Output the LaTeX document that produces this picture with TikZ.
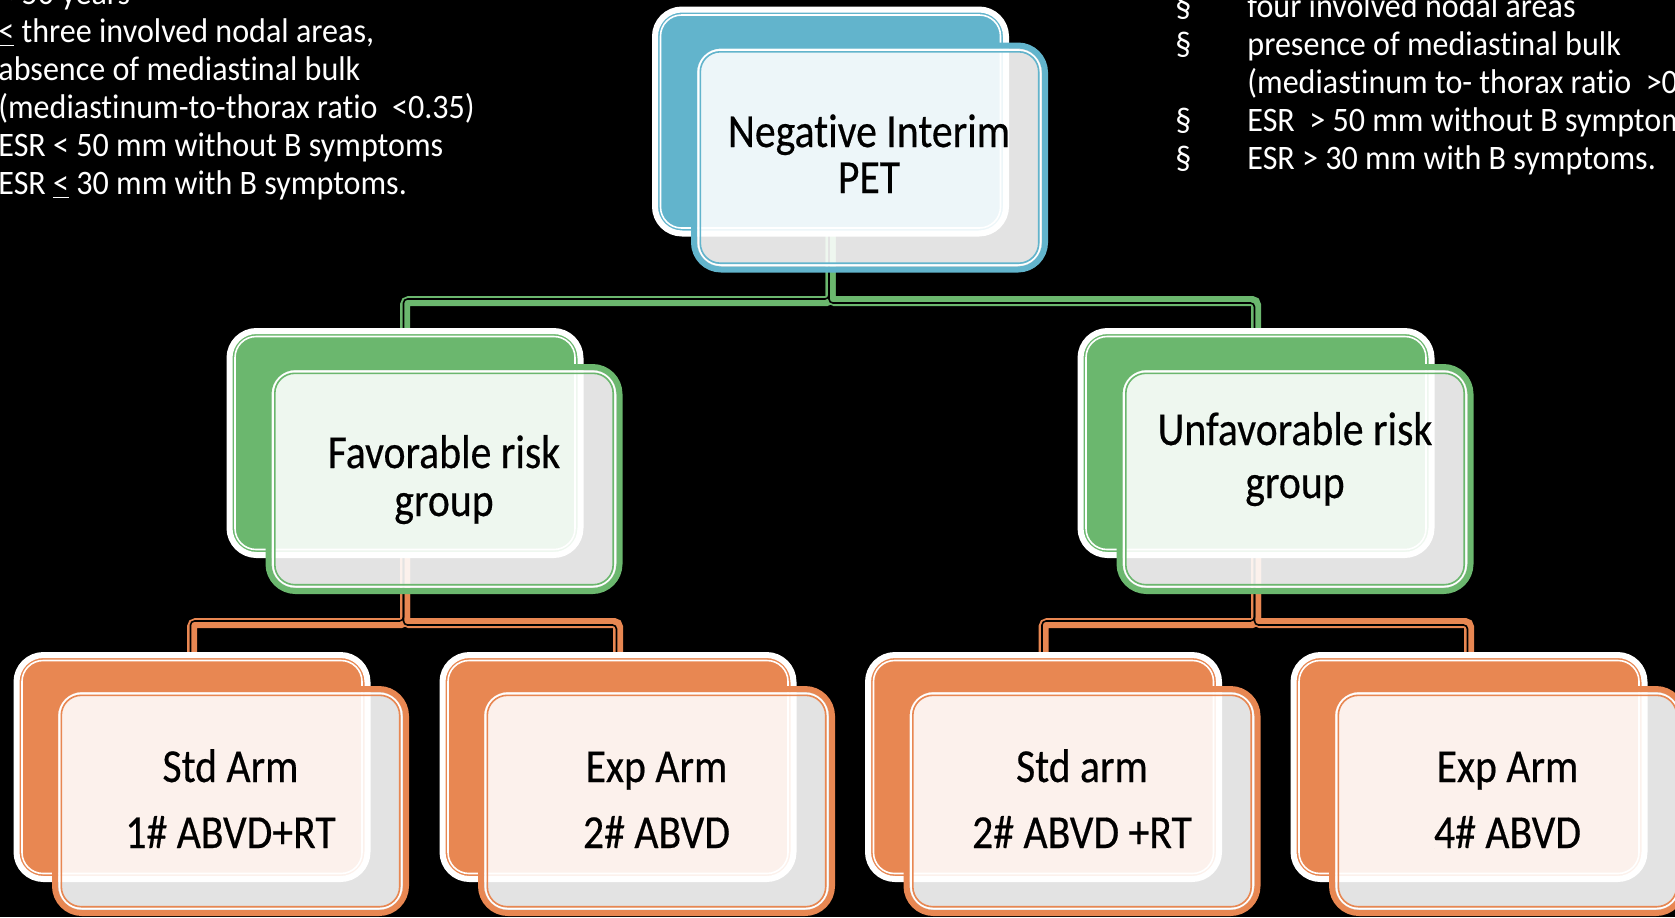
\documentclass[tikz,border=0pt]{standalone}
\usepackage{fontspec}
\setmainfont{Carlito}
\newfontfamily\boxfont[FakeStretch=0.88, FakeBold=0.4, Ligatures=NoCommon]{Carlito}
\newfontfamily\notefont[FakeStretch=0.935, Ligatures=NoCommon]{Carlito}
\usetikzlibrary{calc}

\definecolor{tealc}{HTML}{62B4CC}
\definecolor{greenc}{HTML}{6BB76E}
\definecolor{orangec}{HTML}{E88752}

\pgfdeclarelayer{bg}
\pgfsetlayers{bg,main}

\tikzset{
  % solid card behind, white rim and a thin white inner line
  backbox/.style={draw=white, line width=3pt, fill=#1, rounded corners=13.5pt,
    minimum width=175.5pt, minimum height=112pt, inner sep=0pt,
    path picture={\draw[white, line width=0.8pt, rounded corners=10.5pt]
      ([shift={(2.75pt,-2.75pt)}]path picture bounding box.north west) rectangle
      ([shift={(-2.75pt,2.75pt)}]path picture bounding box.south east);}},
  % translucent card in front, coloured rim with white and coloured inner lines
  frontbox/.style={draw=#1, line width=3pt, fill=white, fill opacity=0.89,
    rounded corners=13.5pt, minimum width=175.5pt, minimum height=112pt, inner sep=0pt,
    path picture={
      \draw[white, line width=0.8pt, rounded corners=11pt]
        ([shift={(2.25pt,-2.25pt)}]path picture bounding box.north west) rectangle
        ([shift={(-2.25pt,2.25pt)}]path picture bounding box.south east);
      \draw[#1, line width=0.8pt, rounded corners=10pt]
        ([shift={(3.15pt,-3.15pt)}]path picture bounding box.north west) rectangle
        ([shift={(-3.15pt,3.15pt)}]path picture bounding box.south east);}},
  boxtext/.style={font=\boxfont\fontsize{23.7pt}{23pt}\selectfont, text=black, inner sep=0pt},
  armtext/.style={boxtext, font=\boxfont\fontsize{23.7pt}{33pt}\selectfont},
  notes/.style={font=\notefont\fontsize{17.15pt}{19pt}\selectfont, text=white, inner sep=0pt},
  link/.style={draw=#1, line width=5pt, rounded corners=2pt},
  linkcore/.style={draw=black, line width=0.8pt, rounded corners=2pt},
}

\begin{document}
\begin{tikzpicture}[x=0.5pt, y=-0.5pt]
\useasboundingbox (0,0) rectangle (1675,917);
\clip (0,0) rectangle (1675,917);

% criteria notes
\node[notes, anchor=base west] (favNotes) at (-2,4.25) {\begin{tabular}[t]{@{}l@{}}
< 50 years\\
\underline{<} three involved nodal areas,\\
absence of mediastinal bulk\\
(mediastinum-to-thorax ratio~~<0.35)\\
ESR < 50 mm without B symptoms\\
ESR \underline{<} 30 mm with B symptoms.
\end{tabular}};

\node[notes, anchor=base west] (unfavNotes) at (1175,17) {\begin{tabular}[t]{@{}p{36pt}@{}l@{}}
\S & four involved nodal areas\\
\S & presence of mediastinal bulk\\
   & (mediastinum to- thorax ratio~~>0.35)\\
\S & ESR~~> 50 mm without B symptoms\\
\S & ESR > 30 mm with B symptoms.
\end{tabular}};

% root
\node[backbox=tealc] (topB) at (830.5,121.5) {};
\node[frontbox=tealc] (topF) at (869.5,157.5) {};
\node[boxtext, anchor=base] (topT) at (869,147) {\begin{tabular}[t]{@{}c@{}}Negative Interim\\PET\end{tabular}};

% risk groups
\node[backbox=greenc] (favB) at (405,443) {};
\node[frontbox=greenc] (favF) at (444,479) {};
\node[boxtext, anchor=base] (favT) at (444,468) {\begin{tabular}[t]{@{}c@{}}Favorable risk\\[1pt]group\end{tabular}};

\node[backbox=greenc] (unfavB) at (1256,443) {};
\node[frontbox=greenc] (unfavF) at (1295,479) {};
\node[boxtext, anchor=base] (unfavT) at (1295,445) {\begin{tabular}[t]{@{}c@{}}Unfavorable risk\\[3.5pt]group\end{tabular}};

% treatment arms
\node[backbox=orangec] (arm1B) at (192,767) {};
\node[frontbox=orangec] (arm1F) at (230.5,801) {};
\node[armtext, anchor=base] (arm1T) at (230.5,782) {\begin{tabular}[t]{@{}c@{}}Std Arm\\1\# ABVD+RT\end{tabular}};

\node[backbox=orangec] (arm2B) at (618,767) {};
\node[frontbox=orangec] (arm2F) at (656.5,801) {};
\node[armtext, anchor=base] (arm2T) at (656.5,782) {\begin{tabular}[t]{@{}c@{}}Exp Arm\\2\# ABVD\end{tabular}};

\node[backbox=orangec] (arm3B) at (1043.5,767) {};
\node[frontbox=orangec] (arm3F) at (1082,801) {};
\node[armtext, anchor=base] (arm3T) at (1082,782) {\begin{tabular}[t]{@{}c@{}}Std arm\\2\# ABVD +RT\end{tabular}};

\node[backbox=orangec] (arm4B) at (1469,767) {};
\node[frontbox=orangec] (arm4F) at (1507.5,801) {};
\node[armtext, anchor=base] (arm4T) at (1507.5,782) {\begin{tabular}[t]{@{}c@{}}Exp Arm\\4\# ABVD\end{tabular}};

\coordinate (busTop) at (830,301);
\coordinate (busLow) at (400,623);

\begin{pgfonlayer}{bg}
\fill[black] (0,0) rectangle (1675,917);
% connectors, running under the cards
\draw[link=greenc] (topB.center) -- (topB.center |- busTop) -| (favB.center);
\draw[link=greenc] (topB.center) -- (topB.center |- busTop) -| (unfavB.center);
\draw[linkcore, transform canvas={xshift=-0.75pt,yshift=1pt}] (topB.center) -- (topB.center |- busTop) -| (favB.center);
\draw[linkcore, transform canvas={xshift=-0.75pt,yshift=-1pt}] (topB.center) -- (topB.center |- busTop) -| (unfavB.center);

\draw[link=orangec] (favB.center) -- (favB.center |- busLow) -| (arm1B.center);
\draw[link=orangec] (favB.center) -- (favB.center |- busLow) -| (arm2B.center);
\draw[link=orangec] (unfavB.center) -- (unfavB.center |- busLow) -| (arm3B.center);
\draw[link=orangec] (unfavB.center) -- (unfavB.center |- busLow) -| (arm4B.center);
\draw[linkcore, transform canvas={xshift=-0.75pt,yshift=1pt}] (favB.center) -- (favB.center |- busLow) -| (arm1B.center);
\draw[linkcore, transform canvas={xshift=-0.75pt,yshift=-1pt}] (favB.center) -- (favB.center |- busLow) -| (arm2B.center);
\draw[linkcore, transform canvas={xshift=-0.75pt,yshift=1pt}] (unfavB.center) -- (unfavB.center |- busLow) -| (arm3B.center);
\draw[linkcore, transform canvas={xshift=-0.75pt,yshift=-1pt}] (unfavB.center) -- (unfavB.center |- busLow) -| (arm4B.center);
\end{pgfonlayer}
\end{tikzpicture}
\end{document}
